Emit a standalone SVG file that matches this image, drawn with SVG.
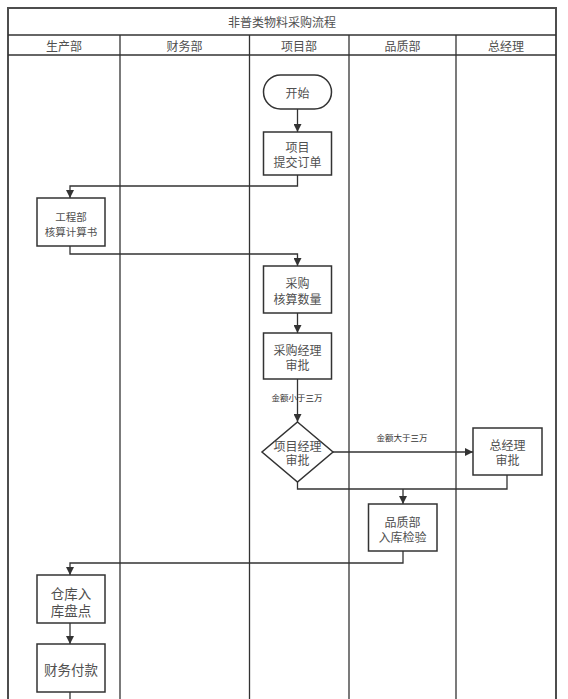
<svg xmlns="http://www.w3.org/2000/svg" width="568" height="699" viewBox="0 0 568 699">
<style>
.frame{fill:none;stroke:#4d4d4d;stroke-width:2}
.lane{fill:none;stroke:#333;stroke-width:1.3}
.box{fill:#fff;stroke:#333;stroke-width:1.5}
.con{fill:none;stroke:#333;stroke-width:1.3}
text{font-family:"Liberation Sans","Noto Sans CJK SC",sans-serif;fill:#505050;text-anchor:middle;dominant-baseline:central}
.t12{font-size:12px}
.t11{font-size:10.5px}
.t14{font-size:13.5px}
.lbl{font-size:8.5px;fill:#333}
</style>
<defs>
<marker id="ah" viewBox="0 0 10 10" refX="10" refY="5" markerWidth="8" markerHeight="8" markerUnits="userSpaceOnUse" orient="auto">
<path d="M0,0 L10,5 L0,10 z" fill="#333"/>
</marker>
</defs>
<rect width="568" height="699" fill="#fff"/>
<g id="pool">
<rect class="frame" x="8" y="8" width="548" height="700"/>
<line class="lane" x1="8" y1="35" x2="556" y2="35"/>
<line class="lane" x1="8" y1="55" x2="556" y2="55"/>
<line class="lane" x1="120" y1="35" x2="120" y2="699"/>
<line class="lane" x1="249.5" y1="35" x2="249.5" y2="699"/>
<line class="lane" x1="349" y1="35" x2="349" y2="699"/>
<line class="lane" x1="456" y1="35" x2="456" y2="699"/>
<text class="t12" x="282" y="23">非普类物料采购流程</text>
<text class="t12" x="64" y="46.5">生产部</text>
<text class="t12" x="184.5" y="46.5">财务部</text>
<text class="t12" x="299" y="46.5">项目部</text>
<text class="t12" x="402.5" y="46.5">品质部</text>
<text class="t12" x="506" y="46.5">总经理</text>
</g>
<g id="connectors">
<line class="con" x1="297.5" y1="109" x2="297.5" y2="132" marker-end="url(#ah)"/>
<polyline class="con" points="297.5,175 297.5,186 70,186 70,198" marker-end="url(#ah)"/>
<polyline class="con" points="70,246 70,254 297.5,254 297.5,266" marker-end="url(#ah)"/>
<line class="con" x1="297.5" y1="313" x2="297.5" y2="333" marker-end="url(#ah)"/>
<line class="con" x1="297.5" y1="379" x2="297.5" y2="422" marker-end="url(#ah)"/>
<line class="con" x1="333" y1="452" x2="473" y2="452" marker-end="url(#ah)"/>
<polyline class="con" points="297.5,482 297.5,489 507,489 507,475"/>
<line class="con" x1="403" y1="489" x2="403" y2="504" marker-end="url(#ah)"/>
<polyline class="con" points="403,551 403,563 70,563 70,575" marker-end="url(#ah)"/>
<line class="con" x1="70" y1="623" x2="70" y2="644" marker-end="url(#ah)"/>
<line class="con" x1="70" y1="692" x2="70" y2="700"/>
<text class="lbl" x="297" y="398">金额小于三万</text>
<text class="lbl" x="402" y="438">金额大于三万</text>
</g>
<g id="start">
<rect class="box" x="263.5" y="75" width="68" height="34" rx="17" ry="17"/>
<text class="t12" x="297.5" y="93.5">开始</text>
</g>
<g id="submit">
<rect class="box" x="263.5" y="132" width="68" height="43"/>
<text class="t12"><tspan x="297.5" y="147.5">项目</tspan><tspan x="297.5" y="162.5">提交订单</tspan></text>
</g>
<g id="calc">
<rect class="box" x="37" y="198" width="68" height="48"/>
<text class="t11"><tspan x="71" y="216.5">工程部</tspan><tspan x="71" y="231.5">核算计算书</tspan></text>
</g>
<g id="purchase">
<rect class="box" x="263.5" y="266" width="68" height="47"/>
<text class="t12"><tspan x="297.5" y="283.5">采购</tspan><tspan x="297.5" y="299.5">核算数量</tspan></text>
</g>
<g id="mgr">
<rect class="box" x="263.5" y="333" width="68" height="46"/>
<text class="t12"><tspan x="297.5" y="350.5">采购经理</tspan><tspan x="297.5" y="365.5">审批</tspan></text>
</g>
<g id="pm">
<polygon class="box" points="297.5,422 333,452 297.5,482 262,452"/>
<text class="t12"><tspan x="297.5" y="446.5">项目经理</tspan><tspan x="297.5" y="460.5">审批</tspan></text>
</g>
<g id="gm">
<rect class="box" x="473" y="428" width="69" height="47"/>
<text class="t12"><tspan x="507.5" y="445.5">总经理</tspan><tspan x="507.5" y="460.5">审批</tspan></text>
</g>
<g id="qc">
<rect class="box" x="368.5" y="504" width="68.5" height="47"/>
<text class="t12"><tspan x="402.5" y="522.5">品质部</tspan><tspan x="402.5" y="537.5">入库检验</tspan></text>
</g>
<g id="stock">
<rect class="box" x="37" y="575" width="68" height="48"/>
<text class="t14"><tspan x="71" y="593.5">仓库入</tspan><tspan x="71" y="610.5">库盘点</tspan></text>
</g>
<g id="pay">
<rect class="box" x="37" y="644" width="68" height="48"/>
<text class="t14" x="71" y="670.5">财务付款</text>
</g>
</svg>
